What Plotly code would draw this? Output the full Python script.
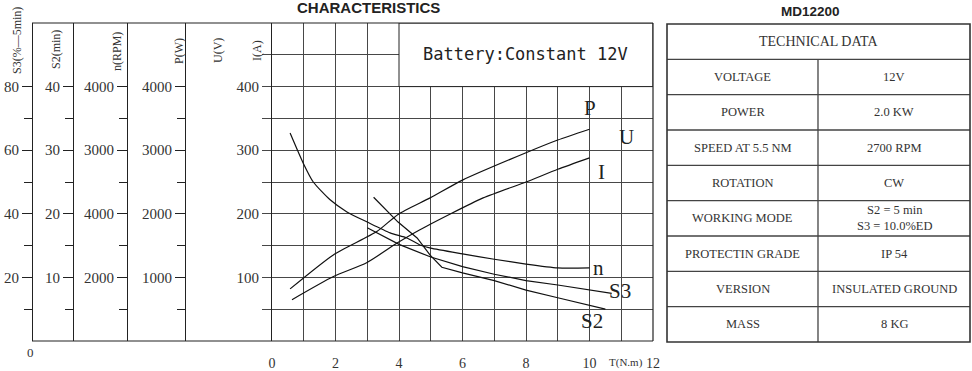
import plotly.graph_objects as go

# ---------------- data ----------------
torque_n = [0.57, 0.98, 1.3, 1.83, 2.36, 3.0, 3.72, 4.25, 4.66, 5.0, 6.0, 7.0, 8.0, 9.0, 10.0]
speed_rpm = [3270, 2800, 2500, 2220, 2030, 1870, 1700, 1620, 1510, 1460, 1370, 1285, 1210, 1150, 1150]

torque_s2 = [3.2, 3.97, 4.57, 4.98, 5.35, 6.0, 7.0, 8.0, 9.0, 10.0, 10.5]
s2_min = [22.6, 18.7, 16.2, 13.5, 11.6, 10.7, 9.5, 8.0, 6.8, 5.6, 5.0]

torque_s3 = [3.0, 4.0, 5.0, 6.0, 7.0, 8.0, 9.0, 10.0, 10.7]
s3_pct = [35.6, 30.4, 26.4, 23.4, 21.0, 19.0, 17.6, 16.0, 15.0]

torque_p = [0.57, 1.92, 3.3, 3.97, 4.98, 6.0, 8.0, 9.0, 10.0]
power_w = [820, 1350, 1720, 1990, 2250, 2530, 2960, 3160, 3330]

torque_i = [0.63, 1.92, 2.98, 3.94, 4.66, 6.65, 8.0, 9.0, 10.0]
current_a = [65, 101, 123, 154, 175, 225, 250, 270, 288]

torque_ticks = [0, 2, 4, 6, 8, 10, 12]
torque_ticktext = ["0", "2", "4", "6", "8", "10", "12"]

i_ticks = [100, 200, 300, 400]
i_ticktext = ["100", "200", "300", "400"]
u_ticks = [4, 8, 12, 16]
u_ticktext = ["4", "8", "12", "16"]
p_ticks = [1000, 2000, 3000, 4000]
p_ticktext = ["1000", "2000", "3000", "4000"]
n_ticks = [1000, 2000, 3000, 4000]
n_ticktext = ["2000", "4000", "3000", "4000"]
s2_ticks = [10, 20, 30, 40]
s2_ticktext = ["10", "20", "30", "40"]
s3_ticks = [20, 40, 60, 80]
s3_ticktext = ["20", "40", "60", "80"]

curve_labels = ["P", "U", "I", "n", "S3", "S2"]
axis_titles = ["S3(%—5min)", "S2(min)", "n(RPM)", "P(W)", "U(V)", "I(A)"]

chart_title = "CHARACTERISTICS"
model_name = "MD12200"
battery_note = "Battery:Constant 12V"
torque_title = "T(N.m)"

table_header = "TECHNICAL DATA"
spec_names = ["VOLTAGE", "POWER", "SPEED AT 5.5 NM", "ROTATION", "WORKING MODE",
              "PROTECTIN GRADE", "VERSION", "MASS"]
spec_values = ["12V", "2.0 KW", "2700 RPM", "CW", "S2 = 5 min<br>S3 = 10.0%ED",
               "IP 54", "INSULATED GROUND", "8 KG"]

# ---------------- styling / layout ----------------
W, H = 972, 371
TOP, BOT = 23, 341
PH = BOT - TOP


def px_x(p):
    return p / W


def px_y(p):
    return (BOT - p) / PH


SERIF = "Liberation Serif"
INK = "#222"
GRID = "#474747"
curve_line = dict(color="#111", width=1.2)
smooth_line = dict(color="#111", width=1.2, shape="spline", smoothing=0.6)

fig = go.Figure()
fig.add_trace(go.Scatter(x=torque_i, y=current_a, yaxis="y", mode="lines", line=smooth_line))
fig.add_trace(go.Scatter(x=torque_p, y=power_w, yaxis="y3", mode="lines", line=smooth_line))
fig.add_trace(go.Scatter(x=torque_n, y=speed_rpm, yaxis="y4", mode="lines", line=smooth_line))
fig.add_trace(go.Scatter(x=torque_s2, y=s2_min, yaxis="y5", mode="lines", line=curve_line))
fig.add_trace(go.Scatter(x=torque_s3, y=s3_pct, yaxis="y6", mode="lines", line=curve_line))

tickfont = dict(family=SERIF, size=15, color="#333")


def free_axis(pos, rng, tv, tt, minor_vals):
    return dict(
        overlaying="y", anchor="free", position=pos, side="left",
        range=rng, fixedrange=True, automargin=False,
        showgrid=False, zeroline=False,
        showline=True, linecolor="#222", linewidth=1,
        ticks="outside", ticklen=10, tickcolor="#222", tickwidth=1,
        tickmode="array", tickvals=tv, ticktext=tt, tickfont=tickfont,
        minor=dict(tickmode="array", tickvals=minor_vals, ticks="outside",
                   ticklen=8, tickcolor="#222", showgrid=False),
    )


x_domain = [px_x(272), px_x(653)]

fig.update_layout(
    width=W, height=H,
    margin=dict(l=0, r=0, t=TOP, b=H - BOT, pad=0),
    paper_bgcolor="white", plot_bgcolor="white",
    showlegend=False, hovermode=False,
    xaxis=dict(
        domain=x_domain, range=[0, 12], fixedrange=True, automargin=False,
        showgrid=True, gridcolor=GRID, gridwidth=1, dtick=1,
        zeroline=False, showline=False,
        tickmode="array", tickvals=torque_ticks, ticktext=torque_ticktext,
        ticks="outside", ticklen=9, tickcolor="rgba(0,0,0,0)",
        tickfont=dict(family=SERIF, size=14, color="#333"),
        minor=dict(tickmode="linear", tick0=0, dtick=1, showgrid=True,
                   gridcolor=GRID, gridwidth=1),
    ),
    yaxis=dict(
        range=[0, 500], fixedrange=True, automargin=False,
        showgrid=True, gridcolor=GRID, gridwidth=1,
        zeroline=False, showline=True, linecolor="#222", linewidth=1,
        tickmode="array", tickvals=i_ticks, ticktext=i_ticktext,
        ticks="outside", ticklen=9, tickcolor=GRID, tickfont=tickfont,
        minor=dict(tickmode="array", tickvals=[50, 150, 250, 350, 450],
                   ticks="outside", ticklen=9, tickcolor=GRID,
                   showgrid=True, gridcolor=GRID, gridwidth=1),
    ),
    yaxis2=free_axis(px_x(223), [0, 20], u_ticks, u_ticktext, [2, 6, 10, 14]),
    yaxis3=free_axis(px_x(185), [0, 5000], p_ticks, p_ticktext, [500, 1500, 2500, 3500]),
    yaxis4=free_axis(px_x(127), [0, 5000], n_ticks, n_ticktext, [500, 1500, 2500, 3500]),
    yaxis5=free_axis(px_x(73), [0, 50], s2_ticks, s2_ticktext, [5, 15, 25, 35]),
    yaxis6=free_axis(px_x(32), [0, 100], s3_ticks, s3_ticktext, [10, 30, 50, 70]),
)

shapes = []
# frame of the chart (top, bottom, right)
for yy in (0, 1):
    shapes.append(dict(type="line", xref="paper", yref="paper",
                       x0=px_x(32), x1=px_x(653), y0=yy, y1=yy,
                       line=dict(color="#222", width=1.2)))
shapes.append(dict(type="line", xref="paper", yref="paper",
                   x0=px_x(653), x1=px_x(653), y0=0, y1=1,
                   line=dict(color="#222", width=1.2)))
# box holding the battery note (hides the grid behind it)
shapes.append(dict(type="rect", xref="x", yref="y", x0=4, x1=12, y0=400, y1=500,
                   fillcolor="white", line=dict(color="#222", width=1), layer="between"))

# technical data table
tx0, txm, tx1 = px_x(667), px_x(818), px_x(970)
ty_top, ty_bot = px_y(24), px_y(342)
nrows = len(spec_names) + 1
rh = (ty_top - ty_bot) / nrows
path = ""
for r in range(1, nrows):
    yy = ty_top - r * rh
    path += "M%.5f,%.5f L%.5f,%.5f " % (tx0, yy, tx1, yy)
path += "M%.5f,%.5f L%.5f,%.5f" % (txm, ty_top - rh, txm, ty_bot)
shapes.append(dict(type="path", xref="paper", yref="paper", path=path,
                   line=dict(color="#444", width=1.3)))
shapes.append(dict(type="rect", xref="paper", yref="paper",
                   x0=tx0, x1=tx1, y0=ty_bot, y1=ty_top, line=dict(color="#333", width=1.6)))
fig.update_layout(shapes=shapes)

ann = []


def add_text(x, y, text, font, xref="paper", yref="paper", angle=0):
    ann.append(dict(x=x, y=y, xref=xref, yref=yref, text=text, showarrow=False,
                    xanchor="center", yanchor="middle", textangle=angle, font=font))


# curve labels (data coordinates of the label positions)
label_pos = {"P": (10.02, 366), "U": (11.18, 321), "I": (10.39, 266),
             "n": (10.27, 115), "S3": (10.96, 79), "S2": (10.08, 31)}
for lab in curve_labels:
    lx, ly = label_pos[lab]
    add_text(lx, ly, lab, dict(family=SERIF, size=21, color=INK), xref="x", yref="y")

# rotated axis titles
title_pos = [(17, 41), (56, 50), (117, 52), (179, 51), (218, 51), (257, 51)]
for t, (ax_, ay_) in zip(axis_titles, title_pos):
    add_text(px_x(ax_), px_y(ay_), t, dict(family=SERIF, size=12, color="#333"), angle=-90)

add_text(px_x(525), px_y(54), battery_note, dict(family="DejaVu Sans Mono", size=17, color=INK))
add_text(px_x(368), px_y(8), "<b>%s</b>" % chart_title, dict(family="Liberation Sans", size=15, color=INK))
add_text(px_x(810), px_y(11), "<b>%s</b>" % model_name, dict(family="Liberation Sans", size=13.5, color=INK))
add_text(px_x(626), px_y(362), torque_title, dict(family=SERIF, size=11, color="#333"))
add_text(px_x(30), px_y(352), "0", dict(family=SERIF, size=13, color="#333"))

# table text
add_text((tx0 + tx1) / 2, ty_top - rh / 2, table_header, dict(family=SERIF, size=14, color="#333"))
for k, (nm, val) in enumerate(zip(spec_names, spec_values)):
    yc = ty_top - (k + 1.5) * rh
    add_text((tx0 + txm) / 2, yc, nm, dict(family=SERIF, size=12.5, color="#333"))
    add_text((txm + tx1) / 2, yc, val, dict(family=SERIF, size=12.5, color="#333"))

fig.update_layout(annotations=ann)
fig.write_html("out.html")
